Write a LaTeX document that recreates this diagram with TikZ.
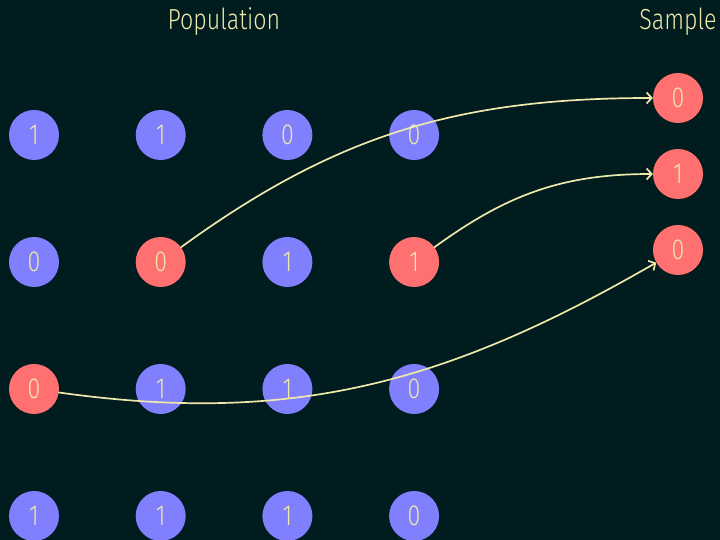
\documentclass[tikz,border=0pt]{standalone}
\usepackage{fontspec}
\setmainfont{Fira Sans}[UprightFont=* Light,FakeStretch=0.8]
\usetikzlibrary{arrows.meta,positioning}
\definecolor{smBack}{HTML}{001C1E}
\definecolor{smBlue}{HTML}{8080FF}
\definecolor{smRed}{HTML}{FF7070}
\definecolor{smInk}{HTML}{EEE8AA}
\tikzset{
 draws/.style={font=\fontsize{29}{30}\selectfont,text=smInk,line cap=round},
 unit/.style={circle,fill=smBlue,inner sep=0pt,minimum size=50pt,text=smInk},
 picked/.style={unit,fill=smRed},
 heading/.style={font=\fontsize{29}{30}\selectfont,text=smInk},
 pick/.style={draw=smInk,line width=1.7pt,-{Straight Barb[length=5pt,width=11pt,line width=1.7pt]}}
}
\begin{document}
\begin{tikzpicture}[draws,x=1pt,y=1pt]
 \useasboundingbox[fill=smBack] (0,0) rectangle (720,540);
 \node[heading] (popTitle) at (224,518) {Population};
 \node[heading] (smpTitle) at (678,518) {Sample};
 % population grid, row by row from the top
 \foreach \r/\c/\v/\s in {0/0/1/unit,0/1/1/unit,0/2/0/unit,0/3/0/unit,
   1/0/0/unit,1/1/0/picked,1/2/1/unit,1/3/1/picked,
   2/0/0/picked,2/1/1/unit,2/2/1/unit,2/3/0/unit,
   3/0/1/unit,3/1/1/unit,3/2/1/unit,3/3/0/unit}{
  \node[\s] (p\r\c) at ({34+126.7*\c},{405-127*\r}) {\v};}
 % drawn sample
 \foreach \v [count=\k] in {0,1,0}{
  \node[picked] (s\k) at (678,{518-76*\k}) {\v};}
 \draw[pick] (p11) to[out=36,in=180] (s1);
 \draw[pick] (p13) to[out=36,in=180] (s2);
 \draw[pick] (p20) to[out=-8,in=210] (s3);
\end{tikzpicture}
\end{document}
